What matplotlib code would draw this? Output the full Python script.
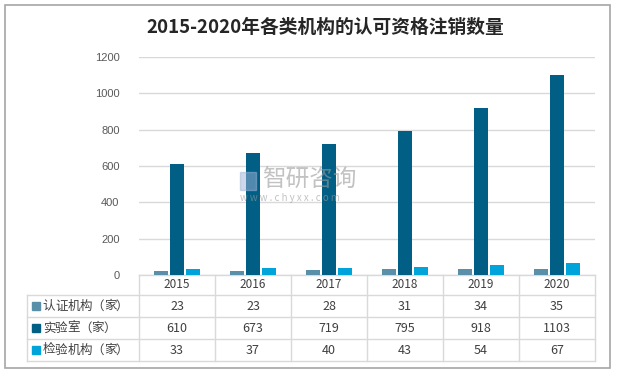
import matplotlib
matplotlib.use('Agg')
import matplotlib.pyplot as plt
import matplotlib.transforms as mtransforms
from matplotlib.patches import Rectangle
import numpy as np

plt.rcParams['font.family'] = ['Noto Sans CJK SC', 'DejaVu Sans']

# ===== データ =====
years = ['2015', '2016', '2017', '2018', '2019', '2020']
series_names = ['认证机构（家）', '实验室（家）', '检验机构（家）']
cert = [23, 23, 28, 31, 34, 35]
lab = [610, 673, 719, 795, 918, 1103]
insp = [33, 37, 40, 43, 54, 67]
colors = ['#5a8fa9', '#015f85', '#00a3da']
yticks = [0, 200, 400, 600, 800, 1000, 1200]

W, H = 619, 374
fig = plt.figure(figsize=(W / 100, H / 100), dpi=100)

# 外枠
fig.patches.append(Rectangle((5 / W, 1 - 368 / H), 605 / W, 363 / H,
                             transform=fig.transFigure, fill=False,
                             edgecolor='#a6a6a6', linewidth=1.2))

ax = fig.add_axes([139 / W, 1 - 275 / H, 456 / W, 218 / H])
x = np.arange(len(years))
bw = 0.178
step = 0.21
for k, vals in enumerate([cert, lab, insp]):
    ax.bar(x + (k - 1) * step, vals, width=bw, color=colors[k], zorder=3)

ax.set_xlim(-0.5, len(years) - 0.5)
ax.set_ylim(0, 1200)
ax.set_yticks(yticks)
ax.set_yticklabels([str(v) for v in yticks], color='#595959', fontsize=8,
                   family=['Liberation Sans', 'DejaVu Sans'])
ax.tick_params(axis='y', length=0, pad=14)
ax.set_xticks([])
ax.grid(axis='y', color='#d9d9d9', linewidth=1, zorder=0)
for s in ['top', 'right', 'left', 'bottom']:
    ax.spines[s].set_visible(False)

# ===== データテーブル =====
tr = mtransforms.blended_transform_factory(ax.transData, ax.transAxes)
px = 1 / 218.0
row_y = [0, -20 * px, -42 * px, -64 * px, -86 * px]
left_x = -0.5 - 112 / 76.0
right_x = len(years) - 0.5
lc = '#d9d9d9'
lw = 1.0
# 横線
ax.plot([-0.5, right_x], [row_y[0], row_y[0]], transform=tr, color=lc, lw=lw, clip_on=False)
for yy in row_y[1:]:
    ax.plot([left_x, right_x], [yy, yy], transform=tr, color=lc, lw=lw, clip_on=False)
# 縦線
ax.plot([left_x, left_x], [row_y[1], row_y[-1]], transform=tr, color=lc, lw=lw, clip_on=False)
for i in range(len(years) + 1):
    xx = i - 0.5
    ax.plot([xx, xx], [row_y[0], row_y[-1]], transform=tr, color=lc, lw=lw, clip_on=False)

for i, yr in enumerate(years):
    ax.text(i, (row_y[0] + row_y[1]) / 2, yr, transform=tr, ha='center', va='center',
            fontsize=8.5, color='#404040')
for r, vals in enumerate([cert, lab, insp]):
    yc = (row_y[r + 1] + row_y[r + 2]) / 2
    for i, v in enumerate(vals):
        ax.text(i, yc, str(v), transform=tr, ha='center', va='center',
                fontsize=9, color='#404040')
    # 凡例マーカー + ラベル (一文字ずつ間隔をあけて配置)
    sq = 8 / 76.0
    ax.add_patch(Rectangle((left_x + 5 / 76.0, yc - 4 * px), sq, 8 * px, transform=tr,
                           color=colors[r], clip_on=False))
    for j, ch in enumerate(series_names[r]):
        ax.text(left_x + (22 + 12.2 * j) / 76.0, yc, ch, transform=tr, ha='center',
                va='center', fontsize=9, color='#404040')

# タイトル
fig.text(325 / W, 1 - 27 / H, '2015-2020年各类机构的认可资格注销数量', ha='center', va='center',
         fontsize=13.5, fontweight='bold', color='#262626')

# ウォーターマーク
fig.text(262 / W, 1 - 180 / H, '智研咨询', ha='left', va='center', fontsize=17,
         color='#9a9a9a', alpha=0.6, zorder=10)
fig.text(240 / W, 1 - 198 / H, 'w w w . c h y x x . c o m', ha='left', va='center', fontsize=7,
         color='#9a9a9a', alpha=0.6, zorder=10)
fig.patches.append(Rectangle((240 / W, 1 - 190 / H), 16 / W, 18 / H, transform=fig.transFigure,
                             color='#9fb3d6', alpha=0.5, zorder=10))

fig.savefig('out.png', dpi=100)
